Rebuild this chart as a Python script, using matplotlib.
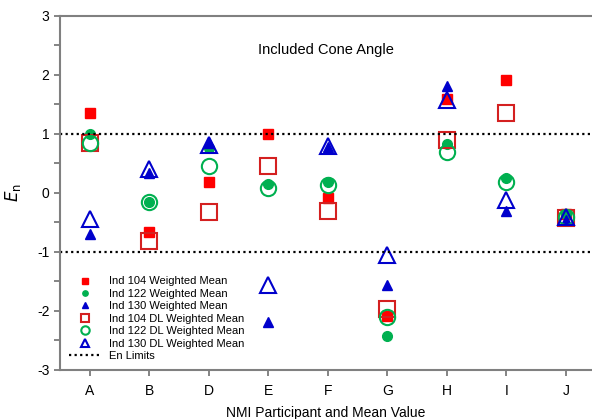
import matplotlib.pyplot as plt

participants = ["A", "B", "D", "E", "F", "G", "H", "I", "J"]

ind104_wm = [1.36, -0.67, 0.18, 1.00, -0.08, -2.08, 1.59, 1.92, -0.36]
ind122_wm = [1.00, -0.16, 0.76, 0.16, 0.19, -2.43, 0.83, 0.25, -0.36]
ind130_wm = [-0.70, 0.33, 0.85, -2.19, 0.78, -1.56, 1.81, -0.30, -0.46]
ind104_dl = [0.85, -0.81, -0.33, 0.45, -0.31, -1.96, 0.90, 1.35, -0.42]
ind122_dl = [0.85, -0.16, 0.46, 0.09, 0.13, -2.10, 0.70, 0.19, -0.40]
ind130_dl = [-0.44, 0.40, 0.82, -1.56, 0.80, -1.05, 1.58, -0.12, -0.40]

en_limits = [1, -1]

RED = "#ff0000"
DARK_RED = "#d42020"
GREEN = "#00b050"
BLUE = "#0000cc"

plt.rcParams["font.family"] = ["Liberation Sans", "DejaVu Sans"]
plt.rcParams["axes.unicode_minus"] = False

fig = plt.figure(figsize=(5.92, 4.19), dpi=100)
ax = fig.add_axes([0.101, 0.117, 0.899, 0.845])

x = list(range(1, len(participants) + 1))

ax.plot(x, ind104_wm, "s", ms=7, color=RED, mec=RED, ls="none", label="Ind 104 Weighted Mean")
ax.plot(x, ind122_wm, "o", ms=7, color=GREEN, mec=GREEN, ls="none", label="Ind 122 Weighted Mean")
ax.plot(x, ind130_wm, "^", ms=7, color=BLUE, mec=BLUE, ls="none", label="Ind 130 Weighted Mean")
ax.plot(x, ind104_dl, "s", ms=11, mfc="none", mec=DARK_RED, mew=1.5, ls="none",
        label="Ind 104 DL Weighted Mean")
ax.plot(x, ind122_dl, "o", ms=11, mfc="none", mec=GREEN, mew=1.5, ls="none",
        label="Ind 122 DL Weighted Mean")
ax.plot(x, ind130_dl, "^", ms=11, mfc="none", mec=BLUE, mew=1.5, ls="none",
        label="Ind 130 DL Weighted Mean")

for i, lim in enumerate(en_limits):
    ax.axhline(lim, color="black", ls=(0, (1, 1.5)), lw=1.6,
               label="En Limits" if i == 0 else None)

ax.set_xlim(0.5, 9.44)
ax.set_ylim(-3, 3)
ax.set_xticks(x)
ax.set_xticklabels(participants)
ax.set_yticks([-3, -2, -1, 0, 1, 2, 3])
ax.set_yticks([-2.5, -1.5, -0.5, 0.5, 1.5, 2.5], minor=True)
ax.tick_params(axis="both", which="both", direction="out", length=4, width=1.2,
               color="#707070", labelsize=10)
ax.tick_params(axis="x", pad=6)

for side in ["left", "bottom", "top"]:
    ax.spines[side].set_color("#808080")
    ax.spines[side].set_linewidth(1.5)
ax.spines["right"].set_visible(False)

ax.text(0.5, 0.905, "Included Cone Angle", transform=ax.transAxes,
        ha="center", va="center", fontsize=10.5)

ax.set_xlabel("NMI Participant and Mean Value", fontsize=10, labelpad=6)
ax.set_ylabel(r"$E_\mathrm{n}$", fontsize=12, labelpad=10)

leg = ax.legend(loc="lower left", bbox_to_anchor=(0.0, 0.0), fontsize=8, frameon=False,
                markerscale=0.55, handlelength=3.0, handletextpad=0.6,
                labelspacing=0.22, borderaxespad=0.4)

fig.savefig("out.png", dpi=100)
